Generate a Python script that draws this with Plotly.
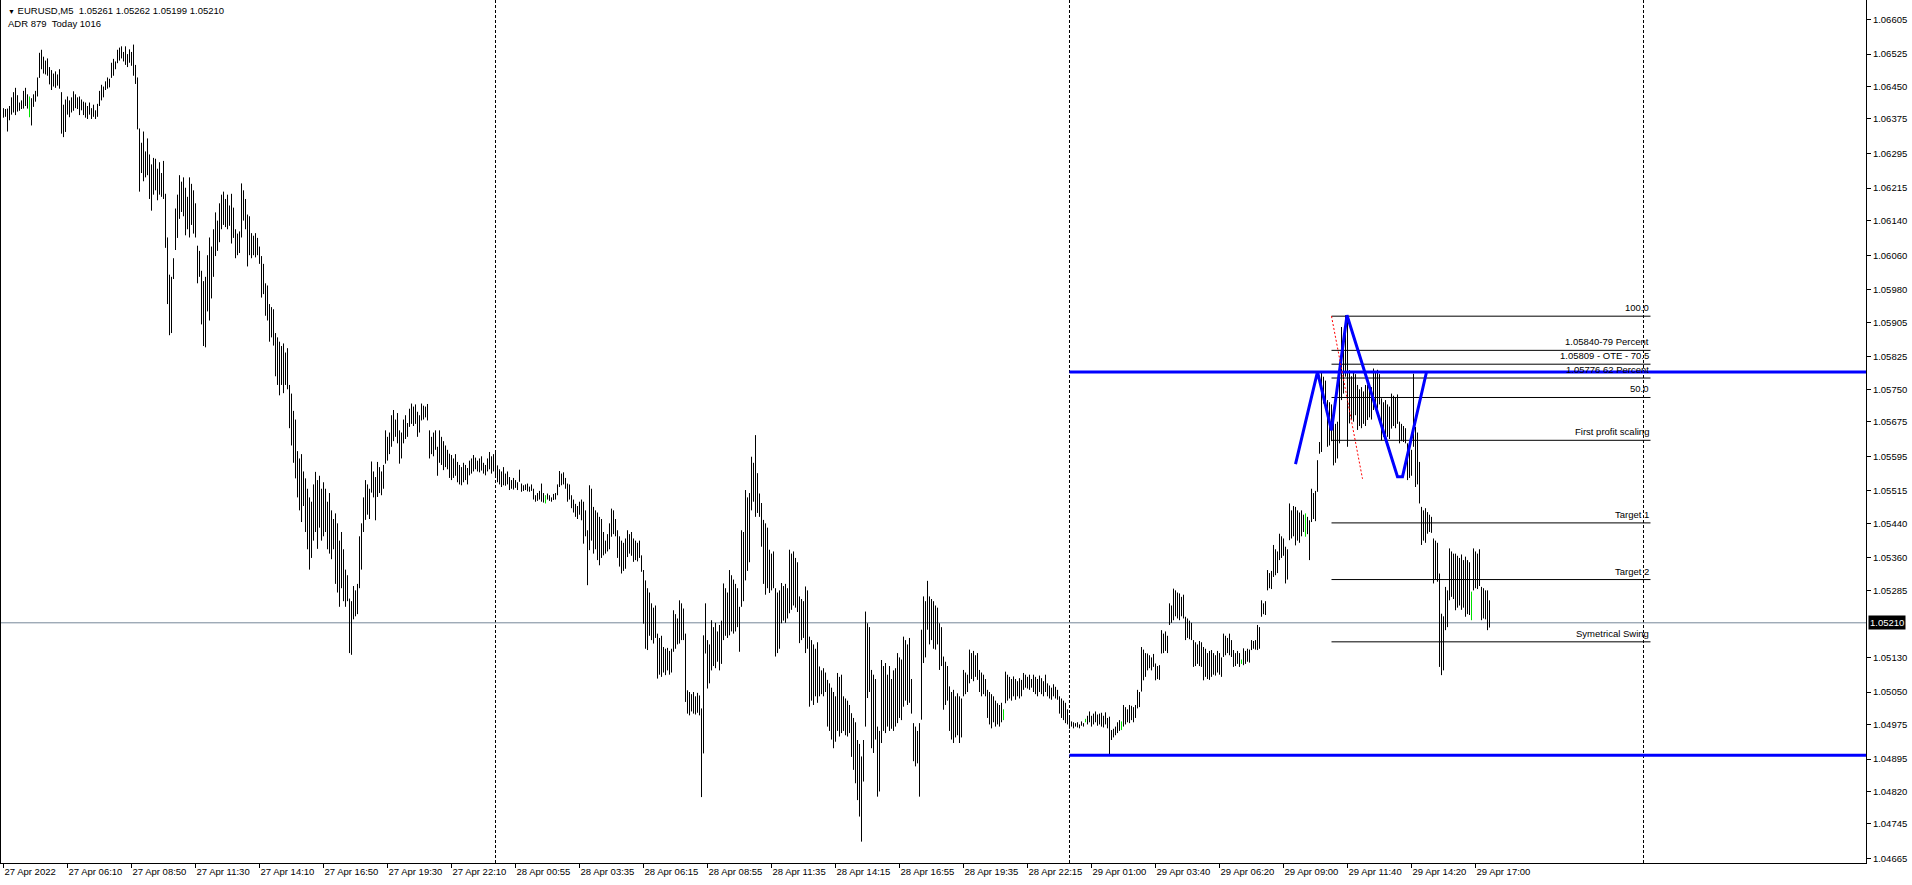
import plotly.graph_objects as go

# ---- bar data (points, 1 point = 0.00001; price = 1 + v/100000) ----
day27_high = [6400,6398,6399,6405,6425,6437,6447,6430,6413,6418,
6440,6447,6432,6427,6423,6432,6440,6471,6528,6535,
6519,6510,6515,6495,6488,6480,6485,6478,6490,6437,
6408,6420,6427,6418,6425,6439,6432,6425,6427,6420,
6415,6413,6405,6413,6400,6408,6395,6410,6440,6454,
6450,6462,6471,6468,6505,6514,6508,6535,6540,6543,
6530,6543,6525,6536,6530,6547,6500,6471,6353,6320,
6346,6300,6330,6293,6270,6285,6283,6260,6275,6250,
6278,6202,6101,6015,6010,6053,6168,6200,6245,6230,
6240,6216,6195,6240,6225,6210,6180,6082,6070,6024,
6000,6010,6060,6101,6080,6120,6159,6140,6180,6200,
6207,6190,6200,6175,6202,6170,6120,6110,6115,6226,
6210,6190,6154,6150,6111,6105,6111,6100,6080,6058,
6040,5995,5990,5947,5940,5935,5880,5870,5860,5850,
5856,5835,5845,5760,5740,5700,5680,5607,5590,5600,
5560,5544,5520,5500,5490,5530,5559,5540,5550,5520,
5535,5520,5490,5510,5470,5450,5463,5440,5400,5420,
5380,5333,5320,5266,5260,5295,5285,5300,5410,5440,
5500,5540,5530,5520,5583,5560,5547,5582,5570,5560,
5575,5655,5640,5650,5690,5702,5680,5695,5655,5650,
5680,5690,5672,5705,5717,5710,5715,5698,5690,5717,
5712,5710,5716,5655,5640,5650,5655,5617,5655,5640,
5630,5620,5610,5601,5598,5590,5600,5582,5575,5570,
5580,5575,5568,5585,5590,5598,5592,5585,5590,5595,
5580,5575,5590,5605,5595,5600]
day27_low = [6378,6380,6346,6372,6385,6390,6384,6392,6394,6398,
6399,6405,6399,6379,6360,6403,6415,6427,6470,6490,
6480,6478,6475,6455,6442,6450,6447,6452,6445,6341,
6333,6345,6385,6379,6390,6394,6400,6398,6384,6395,
6384,6378,6375,6385,6375,6380,6375,6380,6405,6418,
6425,6442,6445,6448,6470,6475,6490,6504,6510,6515,
6508,6500,6495,6505,6498,6475,6456,6351,6207,6250,
6231,6240,6245,6190,6163,6200,6210,6187,6200,6195,
6190,6077,5947,5875,5880,6005,6072,6100,6144,6160,
6150,6106,6120,6101,6130,6110,6101,5995,6010,5900,
5850,5847,5930,5909,5960,6010,6058,6070,6090,6120,
6130,6125,6120,6128,6087,6100,6053,6060,6065,6101,
6140,6120,6034,6060,6053,6060,6055,6060,6040,5962,
5970,5920,5909,5860,5870,5851,5780,5760,5736,5760,
5741,5760,5750,5660,5620,5580,5544,5500,5470,5443,
5480,5420,5380,5333,5360,5400,5420,5381,5430,5400,
5410,5420,5380,5370,5357,5380,5300,5280,5247,5290,
5260,5247,5260,5140,5136,5218,5225,5230,5290,5333,
5420,5448,5460,5450,5511,5500,5447,5501,5510,5505,
5520,5578,5585,5600,5617,5630,5640,5625,5578,5590,
5625,5635,5640,5663,5670,5665,5670,5640,5650,5678,
5680,5685,5678,5590,5600,5595,5610,5550,5580,5575,
5563,5570,5565,5545,5540,5545,5550,5535,5530,5528,
5535,5540,5530,5551,5555,5560,5565,5560,5558,5562,
5555,5551,5560,5565,5555,5560]

day28_high = [5605,5574,5565,5560,5570,5555,5560,5547,5540,5545,
5540,5535,5564,5532,5528,5530,5532,5525,5530,5520,
5505,5510,5515,5532,5510,5505,5509,5505,5500,5508,
5510,5530,5561,5555,5558,5545,5532,5530,5505,5495,
5485,5480,5490,5495,5490,5470,5424,5528,5520,5478,
5470,5465,5455,5450,5420,5400,5415,5440,5474,5470,
5450,5424,5410,5400,5395,5405,5424,5415,5420,5405,
5400,5395,5400,5366,5332,5308,5290,5280,5255,5245,
5250,5185,5175,5180,5154,5150,5152,5145,5150,5239,
5230,5220,5262,5255,5243,5185,5054,5050,5045,5050,
5040,5048,5042,5012,5181,5255,5170,5160,5216,5200,
5210,5190,5205,5215,5301,5290,5280,5332,5320,5310,
5300,5290,5247,5424,5420,5517,5500,5510,5594,5580,
5644,5556,5509,5487,5448,5440,5430,5379,5370,5375,
5290,5280,5285,5302,5295,5300,5290,5379,5370,5375,
5360,5350,5271,5265,5260,5294,5285,5178,5170,5160,
5150,5165,5109,5100,5105,5095,5078,5070,5060,5050,
5040,5094,5085,5090,5040,5035,5030,5020,5001,4990,
4980,4939,4930,4901,4939,5236,5209,5200,5101,5090,
5080,4970,4960,5124,5110,5117,5090,5110,5080,5100,
5105,5140,5130,5125,5178,5170,5160,5175,5080,4978,
4970,4960,4978,5194,5271,5260,5307,5271,5265,5260,
5250,5245,5209,5200,5132,5120,5110,5063,5050,5055,
5040,5047,5040,5035,5101,5095,5090,5148,5140,5145,
5135,5140,5101,5095,5090,5080,5055,5050,5045,5040,
5030,5024,5020,5025,5010,5097,5090,5085,5080,5086,
5080,5075,5082,5078,5094,5090,5085,5090,5080,5090,
5085,5080,5088,5082,5075,5090,5070,5065,5060,5068,
5062,5055,5040,5035,5030,5025,5010]
day28_low = [5550,5535,5530,5524,5528,5527,5530,5517,5520,5518,
5522,5517,5536,5513,5515,5517,5514,5513,5515,5495,
5490,5492,5495,5490,5488,5486,5495,5492,5490,5494,
5495,5505,5524,5528,5530,5520,5490,5495,5475,5465,
5455,5450,5460,5447,5393,5410,5297,5378,5400,5370,
5380,5355,5343,5360,5366,5370,5375,5380,5409,5415,
5410,5360,5340,5324,5330,5335,5362,5370,5365,5351,
5355,5352,5360,5328,5208,5150,5147,5180,5170,5162,
5175,5081,5090,5085,5095,5089,5100,5090,5095,5143,
5150,5160,5162,5170,5170,5027,5000,4996,5005,5000,
4998,5002,4996,4807,4908,5139,5058,5070,5100,5110,
5105,5120,5100,5115,5170,5180,5175,5181,5190,5185,
5190,5200,5143,5247,5260,5308,5330,5350,5470,5490,
5455,5464,5455,5386,5300,5275,5290,5279,5285,5290,
5132,5140,5150,5209,5215,5210,5220,5232,5240,5250,
5245,5235,5163,5170,5175,5140,5150,5016,5030,5020,
5040,5025,5040,5045,5040,5050,4970,4960,4940,4920,
4935,4960,4947,4955,4960,4950,4947,4955,4900,4870,
4839,4800,4762,4704,4843,4970,5036,5050,4920,4909,
4940,4808,4820,4932,4960,4955,4970,4960,4965,4960,
4970,4978,4990,4985,5016,5030,5020,5025,5000,4890,
4878,4885,4808,4986,5117,5130,5194,5160,5170,5150,
5148,5160,5101,5110,5009,5020,5030,4960,4940,4932,
4945,4950,4932,4945,5040,5045,5050,5070,5080,5075,
5085,5078,5050,5040,5045,5040,4990,4975,4966,4980,
4970,4975,4970,4980,4985,5024,5030,5035,5030,5040,
5032,5040,5035,5040,5055,5060,5058,5055,5060,5050,
5045,5040,5050,5045,5040,5050,5040,5035,5032,5040,
5035,5032,5000,4990,4985,4978,4975]

day29_high = [4995,4982,4980,4978,4980,4975,4982,4978,4988,4995,
5005,4995,5000,5005,4998,5000,5002,4995,5003,4990,
4993,4962,4965,4970,4980,4985,4982,5020,5015,5010,
5020,5018,5015,5020,5055,5050,5154,5148,5140,5139,
5135,5130,5138,5116,5110,5112,5193,5185,5190,5180,
5255,5250,5289,5285,5280,5278,5270,5275,5224,5220,
5215,5210,5170,5165,5160,5168,5165,5154,5150,5140,
5145,5147,5140,5135,5145,5140,5130,5185,5180,5175,
5185,5170,5147,5140,5145,5140,5125,5151,5145,5150,
5148,5170,5168,5170,5205,5200,5262,5255,5260,5332,
5325,5330,5390,5380,5375,5416,5410,5405,5386,5380,
5486,5470,5480,5478,5470,5465,5470,5460,5463,5455,
5447,5520,5510,5515,5586,5628,5790,5779,5770,5725,
5720,5715,5679,5670,5675,5802,5894,5880,5921,5917,
5794,5780,5790,5785,5760,5750,5755,5745,5760,5760,
5750,5755,5798,5790,5795,5785,5729,5720,5725,5715,
5710,5740,5735,5730,5738,5675,5670,5665,5660,5625,
5620,5610,5786,5663,5650,5582,5478,5470,5475,5466,
5460,5455,5405,5400,5395,5324,5231,5225,5293,5285,
5382,5375,5370,5370,5365,5360,5368,5355,5363,5355,
5350,5282,5382,5375,5370,5380,5293,5290,5285,5285,5262]
day29_low = [4965,4970,4966,4970,4968,4966,4972,4970,4980,4975,
4980,4970,4975,4980,4972,4975,4970,4968,4975,4966,
4905,4939,4945,4950,4955,4960,4962,4970,4975,4980,
4978,4985,4980,4990,5012,5015,5051,5077,5085,5100,
5105,5100,5108,5077,5080,5078,5139,5140,5145,5140,
5205,5210,5216,5225,5220,5216,5225,5220,5170,5175,
5172,5170,5108,5110,5115,5110,5108,5077,5085,5080,
5078,5085,5090,5088,5095,5090,5085,5131,5135,5140,
5135,5131,5108,5110,5115,5108,5115,5112,5115,5120,
5118,5147,5150,5148,5147,5150,5224,5230,5228,5285,
5290,5288,5316,5320,5325,5355,5360,5365,5301,5310,
5401,5405,5410,5389,5400,5395,5410,5420,5409,5415,
5355,5443,5450,5445,5513,5601,5605,5717,5720,5617,
5620,5630,5574,5580,5590,5625,5725,5740,5779,5617,
5671,5680,5675,5690,5656,5665,5660,5670,5665,5679,
5685,5680,5702,5710,5705,5715,5632,5640,5645,5640,
5635,5659,5665,5660,5670,5625,5630,5628,5625,5540,
5545,5550,5617,5524,5530,5486,5390,5400,5395,5416,
5420,5418,5301,5310,5305,5108,5089,5100,5193,5200,
5262,5270,5265,5239,5245,5250,5240,5245,5224,5230,
5228,5216,5285,5290,5288,5295,5216,5220,5218,5193,5199]

green_bars = [13, 271, 500, 541, 559, 619, 651, 734]

time_labels = ["27 Apr 2022", "27 Apr 06:10", "27 Apr 08:50", "27 Apr 11:30", "27 Apr 14:10",
               "27 Apr 16:50", "27 Apr 19:30", "27 Apr 22:10", "28 Apr 00:55", "28 Apr 03:35",
               "28 Apr 06:15", "28 Apr 08:55", "28 Apr 11:35", "28 Apr 14:15", "28 Apr 16:55",
               "28 Apr 19:35", "28 Apr 22:15", "29 Apr 01:00", "29 Apr 03:40", "29 Apr 06:20",
               "29 Apr 09:00", "29 Apr 11:40", "29 Apr 14:20", "29 Apr 17:00"]
bars_per_label = 32

price_ticks = [1.06605, 1.06525, 1.06450, 1.06375, 1.06295, 1.06215, 1.06140, 1.06060,
               1.05980, 1.05905, 1.05825, 1.05750, 1.05675, 1.05595, 1.05515, 1.05440,
               1.05360, 1.05285, 1.05130, 1.05050, 1.04975, 1.04895, 1.04820, 1.04745, 1.04665]

current_price = 1.05210
day_separators = [246, 533, 820]

blue_levels = [1.05790, 1.04904]
blue_start = 533

fib_prices = [1.05919, 1.05840, 1.05808, 1.05776, 1.05731, 1.05632, 1.05441, 1.05310, 1.05166]
fib_labels = ["100.0", "1.05840-79 Percent", "1.05809 - OTE - 70.5", "1.05776 62 Percent", "50.0",
              "First profit scaling", "Target 1", "Target 2", "Symetrical Swing"]
fib_start, fib_end = 664, 823.5
fib_anchor_x = [664, 679.5]
fib_anchor_y = [1.05919, 1.05543]

zig_x = [646, 657, 664, 671.75, 697, 699.5, 711.5]
zig_y = [1.05577, 1.05790, 1.05655, 1.05921, 1.05548, 1.05548, 1.05790]

# ---- build ----
highs = day27_high + day28_high + day29_high
lows = day27_low + day28_low + day29_low


def pr(v):
    return 1 + v / 100000.0


bx, by, gx, gy = [], [], [], []
gset = set(green_bars)
for i, (h, l) in enumerate(zip(highs, lows)):
    if i in gset:
        gx += [i, i, None]
        gy += [pr(l), pr(h), None]
    else:
        bx += [i, i, None]
        by += [pr(l), pr(h), None]

FONT = "Liberation Sans, Arial, sans-serif"
fig = go.Figure()
fig.add_trace(go.Scatter(x=bx, y=by, mode="lines", line=dict(color="black", width=1),
                         hoverinfo="skip", showlegend=False))
fig.add_trace(go.Scatter(x=gx, y=gy, mode="lines", line=dict(color="#00e000", width=1),
                         hoverinfo="skip", showlegend=False))

xmax = 931.25
# fib lines
for p in fib_prices:
    fig.add_trace(go.Scatter(x=[fib_start, fib_end], y=[p, p], mode="lines",
                             line=dict(color="black", width=1), hoverinfo="skip", showlegend=False))
# blue levels
for p in blue_levels:
    fig.add_trace(go.Scatter(x=[blue_start, xmax], y=[p, p], mode="lines",
                             line=dict(color="#0000ff", width=3), hoverinfo="skip", showlegend=False))
# zigzag
fig.add_trace(go.Scatter(x=zig_x, y=zig_y, mode="lines", line=dict(color="#0000ff", width=3),
                         hoverinfo="skip", showlegend=False))
# fib anchor
fig.add_trace(go.Scatter(x=fib_anchor_x, y=fib_anchor_y, mode="lines",
                         line=dict(color="red", width=1, dash="2px,2px"),
                         hoverinfo="skip", showlegend=False))

shapes = []
for s in day_separators:
    shapes.append(dict(type="line", xref="x", yref="paper", x0=s, x1=s, y0=0, y1=1,
                       line=dict(color="black", width=1, dash="3px,2px"), layer="below"))
shapes.append(dict(type="line", xref="paper", yref="y", x0=0, x1=1, y0=current_price, y1=current_price,
                   line=dict(color="#778899", width=1), layer="below"))

annotations = []
for p, t in zip(fib_prices, fib_labels):
    annotations.append(dict(x=fib_end, y=p, xref="x", yref="y", text=t, showarrow=False,
                            xanchor="right", yanchor="bottom", yshift=1,
                            font=dict(family=FONT, size=9.5, color="black")))
annotations.append(dict(x=1, y=current_price, xref="paper", yref="y", text="1.05210",
                        showarrow=False, xanchor="left", xshift=2, bgcolor="black",
                        borderpad=1, font=dict(family=FONT, size=9.5, color="white")))
annotations.append(dict(x=0, y=1, xref="paper", yref="paper", xanchor="left", yanchor="top",
                        xshift=5, yshift=-3, showarrow=False,
                        text="<span style='font-size:7px'>▼</span> EURUSD,M5\u00a0\u00a01.05261 1.05262 1.05199 1.05210",
                        font=dict(family=FONT, size=9.5, color="black")))
annotations.append(dict(x=0, y=1, xref="paper", yref="paper", xanchor="left", yanchor="top",
                        xshift=5, yshift=-16, showarrow=False,
                        text="ADR 879\u00a0\u00a0Today 1016",
                        font=dict(family=FONT, size=9.5, color="black")))

fig.update_layout(
    width=1912, height=885,
    margin=dict(l=1, r=46, t=0, b=22),
    paper_bgcolor="white", plot_bgcolor="white",
    shapes=shapes, annotations=annotations,
    xaxis=dict(range=[-1.25, xmax], showgrid=False, zeroline=False,
               tickvals=[k * bars_per_label for k in range(len(time_labels))],
               ticktext=time_labels, ticks="outside", ticklen=4, tickcolor="black",
               ticklabelposition="outside right", showline=True, linecolor="black", linewidth=1,
               tickfont=dict(family=FONT, size=9.5, color="black"), fixedrange=True),
    yaxis=dict(range=[1.046546, 1.066501], side="right", showgrid=False, zeroline=False,
               tickvals=price_ticks, ticktext=["%.5f" % v for v in price_ticks],
               ticks="outside", ticklen=4, tickcolor="black", showline=True, mirror=True,
               linecolor="black", linewidth=1,
               tickfont=dict(family=FONT, size=9.5, color="black"), fixedrange=True),
)

fig.write_html("out.html", config={"displayModeBar": False},
               post_script="document.body.style.margin='0';document.body.style.overflow='hidden';")
